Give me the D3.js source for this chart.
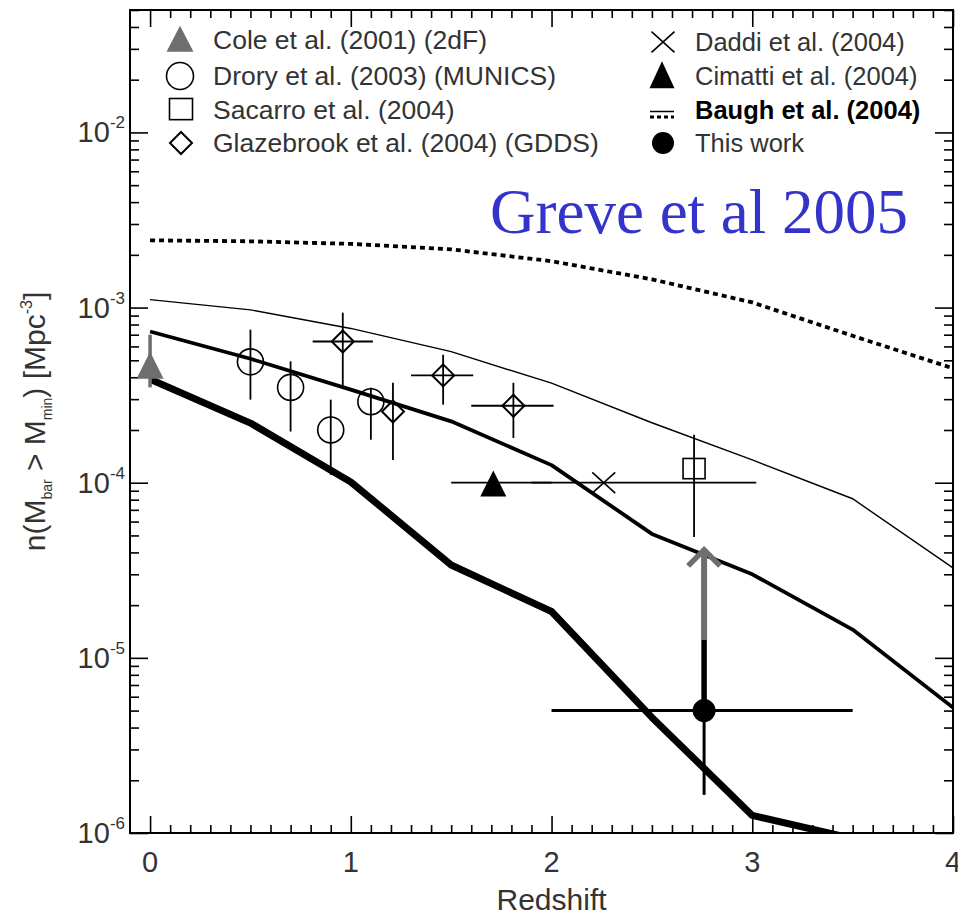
<!DOCTYPE html>
<html>
<head>
<meta charset="utf-8">
<script src="https://cdn.jsdelivr.net/npm/d3@7"></script>
<style>
  html, body { margin: 0; padding: 0; background: #fff; }
  svg { display: block; }
</style>
</head>
<body>
<svg id="chart" width="958" height="916"></svg>
<script>
// ---------------- data ----------------
const zGrid = [0, 0.5, 1, 1.5, 2, 2.5, 3, 3.5, 4];
const baughDotted = [2.42e-3, 2.39e-3, 2.31e-3, 2.15e-3, 1.84e-3, 1.45e-3, 1.07e-3, 6.9e-4, 4.5e-4];
const baughSolid  = [1.11e-3, 9.7e-4, 7.6e-4, 5.6e-4, 3.7e-4, 2.2e-4, 1.35e-4, 8.1e-5, 3.26e-5];
const modelMid    = [7.3e-4, 5.1e-4, 3.4e-4, 2.24e-4, 1.26e-4, 5.1e-5, 3.0e-5, 1.45e-5, 5.2e-6];
const zLow        = [0, 0.5, 1, 1.5, 2, 2.5, 3, 3.5];
const modelLow    = [3.9e-4, 2.19e-4, 1.01e-4, 3.39e-5, 1.84e-5, 4.57e-6, 1.26e-6, 9.3e-7];

const coleZ = [0], coleN = [4.6e-4], coleLo = [3.5e-4], coleHi = [7.0e-4];

const droryZ  = [0.5, 0.7, 0.9, 1.1];
const droryN  = [4.9e-4, 3.5e-4, 2.0e-4, 2.9e-4];
const droryLo = [2.98e-4, 1.96e-4, 1.11e-4, 1.76e-4];
const droryHi = [7.48e-4, 4.93e-4, 2.98e-4, 3.49e-4];

const glazZ   = [0.96, 1.21, 1.46, 1.81];
const glazN   = [6.4e-4, 2.55e-4, 4.1e-4, 2.75e-4];
const glazLo  = [3.54e-4, 1.35e-4, 2.79e-4, 1.8e-4];
const glazHi  = [9.35e-4, 3.72e-4, 5.38e-4, 3.72e-4];
const glazZLo = [0.81, 1.21, 1.30, 1.60];
const glazZHi = [1.11, 1.21, 1.61, 2.01];

const sacZ = [2.71], sacN = [1.19e-4], sacLo = [4.9e-5], sacHi = [1.88e-4];
const daddiZ = [2.26], daddiN = [1.0e-4], daddiZLo = [1.9], daddiZHi = [3.02];
const cimZ = [1.71], cimN = [1.0e-4], cimZLo = [1.5], cimZHi = [2.0];

const thisZ = [2.76], thisN = [5.0e-6], thisZLo = [2.0], thisZHi = [3.5];
const thisLo = [1.65e-6], thisHi = [1.27e-5], thisLimit = [4.3e-5];

const xTickValues = [0, 1, 2, 3, 4];
const yTickExponents = [-2, -3, -4, -5, -6];

const legendLeft  = ["Cole et al. (2001) (2dF)", "Drory et al. (2003) (MUNICS)", "Sacarro et al. (2004)", "Glazebrook et al. (2004) (GDDS)"];
const legendRight = ["Daddi et al. (2004)", "Cimatti et al. (2004)", "Baugh et al. (2004)", "This work"];

// ---------------- chart ----------------
const SANS = "'Liberation Sans', Arial, Helvetica, sans-serif";
const SERIF = "'Liberation Serif', 'Times New Roman', serif";
const svg = d3.select("#chart").style("font-family", SANS);
const L = 130, R = 953, T = 10, B = 833;
const x = d3.scaleLinear().domain([-0.1, 4]).range([L, R]);
const y = d3.scaleLog().domain([1e-6, 5e-2]).range([B, T]);
const txtCol = "#333";

svg.append("defs").append("clipPath").attr("id", "plotclip")
  .append("rect").attr("x", L).attr("y", T).attr("width", R - L).attr("height", B - T);

// minor / major ticks
const xMinor = d3.range(0, 41).map(i => i / 10).filter(v => Math.abs(v - Math.round(v)) > 1e-6);
const yMinor = [];
for (let e = -6; e <= -2; e++) for (let m = 2; m <= 9; m++) { const v = m * Math.pow(10, e); if (v <= 5e-2) yMinor.push(v); }
const yMajor = yTickExponents.map(e => Math.pow(10, e));

function axisGroup(axis, tx, ty) {
  const g = svg.append("g").attr("transform", `translate(${tx},${ty})`).call(axis);
  g.select(".domain").remove();
  g.selectAll(".tick line").attr("stroke", "#000").attr("stroke-width", 1.6);
  g.selectAll("text").remove();
  return g;
}
axisGroup(d3.axisBottom(x).tickValues(xTickValues).tickSize(-17), 0, B);
axisGroup(d3.axisBottom(x).tickValues(xMinor).tickSize(-8), 0, B);
axisGroup(d3.axisTop(x).tickValues(xTickValues).tickSize(-17), 0, T);
axisGroup(d3.axisTop(x).tickValues(xMinor).tickSize(-8), 0, T);
axisGroup(d3.axisLeft(y).tickValues(yMajor).tickSize(-18), L, 0);
axisGroup(d3.axisLeft(y).tickValues(yMinor).tickSize(-9), L, 0);
axisGroup(d3.axisRight(y).tickValues(yMajor).tickSize(-18), R, 0);
axisGroup(d3.axisRight(y).tickValues(yMinor).tickSize(-9), R, 0);

svg.append("rect").attr("x", L).attr("y", T).attr("width", R - L).attr("height", B - T)
  .attr("fill", "none").attr("stroke", "#000").attr("stroke-width", 2);

// tick labels
svg.append("g").selectAll("text").data(xTickValues).join("text")
  .attr("x", d => x(d)).attr("y", 872).attr("text-anchor", "middle")
  .attr("font-size", 29).attr("fill", txtCol).text(d => d);

const yl = svg.append("g").selectAll("text").data(yTickExponents).join("text")
  .attr("x", 125).attr("y", d => y(Math.pow(10, d)) + 10).attr("text-anchor", "end")
  .attr("font-size", 29).attr("fill", txtCol);
yl.append("tspan").text("10");
yl.append("tspan").attr("font-size", 17).attr("dy", -14).text(d => String(d));

// axis titles
svg.append("text").attr("x", x(2)).attr("y", 910).attr("text-anchor", "middle")
  .attr("font-size", 30).attr("fill", txtCol).text("Redshift");

const yt = svg.append("text").attr("transform", `translate(45,${(T + B) / 2}) rotate(-90)`)
  .attr("text-anchor", "middle").attr("font-size", 30).attr("fill", txtCol);
yt.append("tspan").text("n(M");
yt.append("tspan").attr("font-size", 14).attr("dy", 7).text("bar");
yt.append("tspan").attr("dy", -7).text("  >  M");
yt.append("tspan").attr("font-size", 14).attr("dy", 7).text("min");
yt.append("tspan").attr("dy", -7).text(") [Mpc");
yt.append("tspan").attr("font-size", 16).attr("dy", -13).text("-3");
yt.append("tspan").attr("dy", 13).text("]");

// ---------------- curves ----------------
const plot = svg.append("g").attr("clip-path", "url(#plotclip)");
const line = d3.line().x(d => x(d[0])).y(d => y(d[1]));
plot.append("path").attr("d", line(d3.zip(zGrid, baughDotted)))
  .attr("fill", "none").attr("stroke", "#000").attr("stroke-width", 3.8).attr("stroke-dasharray", "5,4");
plot.append("path").attr("d", line(d3.zip(zGrid, baughSolid)))
  .attr("fill", "none").attr("stroke", "#000").attr("stroke-width", 1.4);
plot.append("path").attr("d", line(d3.zip(zGrid, modelMid)))
  .attr("fill", "none").attr("stroke", "#000").attr("stroke-width", 3.8).attr("stroke-linejoin", "round");
plot.append("path").attr("d", line(d3.zip(zLow, modelLow)))
  .attr("fill", "none").attr("stroke", "#000").attr("stroke-width", 7).attr("stroke-linejoin", "round");

// ---------------- markers ----------------
const eb = svg.append("g");
function vbar(z, lo, hi, col, w) {
  eb.append("line").attr("x1", x(z)).attr("x2", x(z)).attr("y1", y(lo)).attr("y2", y(hi))
    .attr("stroke", col).attr("stroke-width", w);
}
function hbar(n, zlo, zhi, col, w) {
  eb.append("line").attr("x1", x(zlo)).attr("x2", x(zhi)).attr("y1", y(n)).attr("y2", y(n))
    .attr("stroke", col).attr("stroke-width", w);
}
function triangle(g, cx, cy, w, h, fill) {
  g.append("path").attr("d", `M${cx},${cy - h * 0.55} L${cx + w / 2},${cy + h * 0.45} L${cx - w / 2},${cy + h * 0.45} Z`)
    .attr("fill", fill).attr("stroke", "none");
}
function circle(g, cx, cy, r, filled) {
  g.append("circle").attr("cx", cx).attr("cy", cy).attr("r", r)
    .attr("fill", filled ? "#000" : "none").attr("stroke", "#000").attr("stroke-width", filled ? 0 : 1.6);
}
function square(g, cx, cy, s) {
  g.append("rect").attr("x", cx - s / 2).attr("y", cy - s / 2).attr("width", s).attr("height", s * 0.92)
    .attr("fill", "none").attr("stroke", "#000").attr("stroke-width", 1.6);
}
function diamond(g, cx, cy, r) {
  g.append("path").attr("d", `M${cx},${cy - r} L${cx + r},${cy} L${cx},${cy + r} L${cx - r},${cy} Z`)
    .attr("fill", "none").attr("stroke", "#000").attr("stroke-width", 2);
}
function cross(g, cx, cy, s) {
  g.append("path").attr("d", `M${cx - s},${cy - s * 0.9} L${cx + s},${cy + s * 0.9} M${cx - s},${cy + s * 0.9} L${cx + s},${cy - s * 0.9}`)
    .attr("stroke", "#000").attr("stroke-width", 1.6).attr("fill", "none");
}

const mk = svg.append("g");
coleZ.forEach((z, i) => { vbar(z, coleLo[i], coleHi[i], "#6e6e6e", 3.5); triangle(mk, x(z), y(coleN[i]), 27, 27, "#6e6e6e"); });
droryZ.forEach((z, i) => { vbar(z, droryLo[i], droryHi[i], "#000", 1.8); circle(mk, x(z), y(droryN[i]), 13, false); });
glazZ.forEach((z, i) => { vbar(z, glazLo[i], glazHi[i], "#000", 1.8); hbar(glazN[i], glazZLo[i], glazZHi[i], "#000", 1.8); diamond(mk, x(z), y(glazN[i]), 11); });
cimZ.forEach((z, i) => { hbar(cimN[i], cimZLo[i], cimZHi[i], "#000", 1.8); triangle(mk, x(z), y(cimN[i]) + 2, 26, 26, "#000"); });
daddiZ.forEach((z, i) => { hbar(daddiN[i], daddiZLo[i], daddiZHi[i], "#000", 1.8); cross(mk, x(z), y(daddiN[i]), 11.5); });
sacZ.forEach((z, i) => { vbar(z, sacLo[i], sacHi[i], "#000", 1.8); square(mk, x(z), y(sacN[i]), 22); });
thisZ.forEach((z, i) => {
  const xa = x(z), ytip = y(thisLimit[i]);
  mk.append("line").attr("x1", xa).attr("x2", xa).attr("y1", y(thisHi[i])).attr("y2", ytip + 2)
    .attr("stroke", "#6e6e6e").attr("stroke-width", 6);
  mk.append("path").attr("d", `M${xa - 16},${ytip + 19} L${xa},${ytip + 3} L${xa + 16},${ytip + 19}`)
    .attr("fill", "none").attr("stroke", "#6e6e6e").attr("stroke-width", 5.5);
  hbar(thisN[i], thisZLo[i], thisZHi[i], "#000", 3);
  mk.append("line").attr("x1", xa).attr("x2", xa).attr("y1", y(thisHi[i])).attr("y2", y(thisN[i]))
    .attr("stroke", "#000").attr("stroke-width", 5.5);
  mk.append("line").attr("x1", xa).attr("x2", xa).attr("y1", y(thisN[i])).attr("y2", y(thisLo[i]))
    .attr("stroke", "#000").attr("stroke-width", 3);
  circle(mk, xa, y(thisN[i]), 11.5, true);
});

// ---------------- legend ----------------
const lg = svg.append("g");
const rowsL = [40, 76, 110, 143];
const rowsR = [42, 76, 110, 143];
lg.selectAll("text.l").data(legendLeft).join("text").attr("class", "l")
  .attr("x", 213).attr("y", (d, i) => rowsL[i] + 9).attr("font-size", 26.5).attr("fill", txtCol).text(d => d);
lg.selectAll("text.r").data(legendRight).join("text").attr("class", "r")
  .attr("x", 695).attr("y", (d, i) => rowsR[i] + 9).attr("font-size", 25.5)
  .attr("fill", (d, i) => i === 2 ? "#000" : txtCol).attr("font-weight", (d, i) => i === 2 ? "bold" : "normal")
  .text(d => d);
triangle(lg, 180, rowsL[0], 27, 26, "#6e6e6e");
circle(lg, 180, rowsL[1], 13.5, false);
square(lg, 181, rowsL[2], 23);
diamond(lg, 181, rowsL[3], 11);
cross(lg, 663, rowsR[0], 11.5);
triangle(lg, 662, rowsR[1], 25, 27, "#000");
lg.append("line").attr("x1", 650).attr("x2", 674).attr("y1", 111.5).attr("y2", 111.5).attr("stroke", "#000").attr("stroke-width", 1.5);
lg.append("line").attr("x1", 650).attr("x2", 674).attr("y1", 117).attr("y2", 117).attr("stroke", "#000").attr("stroke-width", 3).attr("stroke-dasharray", "4,3");
circle(lg, 663, rowsR[3], 11, true);

// annotation
svg.append("text").attr("x", 490).attr("y", 233).attr("font-size", 63)
  .style("font-family", SERIF)
  .attr("fill", "#3434cc").text("Greve et al 2005");
</script>
</body>
</html>
